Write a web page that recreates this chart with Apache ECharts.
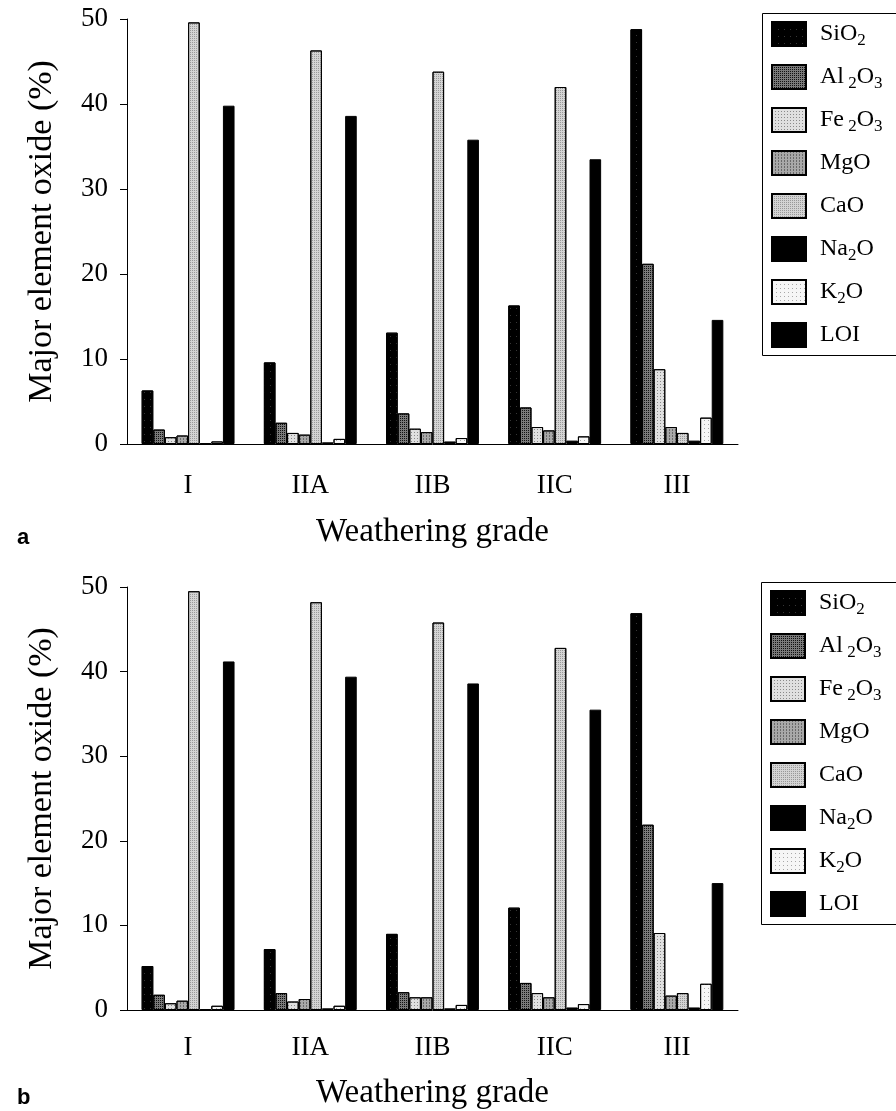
<!DOCTYPE html>
<html>
<head>
<meta charset="utf-8">
<title>Major element oxide vs weathering grade</title>
<script src="https://cdn.jsdelivr.net/npm/echarts@6.0.0/dist/echarts.min.js"></script>
<style>
    html, body { margin: 0; padding: 0; background: #fff; }
    #chart { width: 896px; height: 1111px; }
</style>
</head>
<body>
<div id="chart"></div>
<script>
// 风化等级
const grades = ['I', 'IIA', 'IIB', 'IIC', 'III'];
const oxides = ['SiO2', 'Al2O3', 'Fe2O3', 'MgO', 'CaO', 'Na2O', 'K2O', 'LOI'];
const yTicks = [0, 10, 20, 30, 40, 50];

// 图 a 数据 (每个氧化物一组, 按风化等级)
const sio2A  = [6.3, 9.6, 13.1, 16.3, 48.8];
const al2o3A = [1.7, 2.5, 3.6, 4.3, 21.2];
const fe2o3A = [0.8, 1.3, 1.8, 2.0, 8.8];
const mgoA   = [1.0, 1.1, 1.4, 1.6, 2.0];
const caoA   = [49.6, 46.3, 43.8, 42.0, 1.3];
const na2oA  = [0.1, 0.2, 0.3, 0.4, 0.4];
const k2oA   = [0.3, 0.6, 0.7, 0.9, 3.1];
const loiA   = [39.8, 38.6, 35.8, 33.5, 14.6];

// 图 b 数据
const sio2B  = [5.2, 7.2, 9.0, 12.1, 46.9];
const al2o3B = [1.8, 2.0, 2.1, 3.2, 21.9];
const fe2o3B = [0.8, 1.0, 1.5, 2.0, 9.1];
const mgoB   = [1.1, 1.3, 1.5, 1.5, 1.7];
const caoB   = [49.5, 48.2, 45.8, 42.8, 2.0];
const na2oB  = [0.1, 0.2, 0.2, 0.3, 0.3];
const k2oB   = [0.5, 0.5, 0.6, 0.7, 3.1];
const loiB   = [41.2, 39.4, 38.6, 35.5, 15.0];

const dataA = [sio2A, al2o3A, fe2o3A, mgoA, caoA, na2oA, k2oA, loiA];
const dataB = [sio2B, al2o3B, fe2o3B, mgoB, caoB, na2oB, k2oB, loiB];

// 图例文字 (下标)
const legendLabels = {
    'SiO2': 'SiO{s|2}',
    'Al2O3': 'Al{s| 2}O{s|3}',
    'Fe2O3': 'Fe{s| 2}O{s|3}',
    'MgO': 'MgO',
    'CaO': 'CaO',
    'Na2O': 'Na{s|2}O',
    'K2O': 'K{s|2}O',
    'LOI': 'LOI'
};

// 柱子填充 (灰度 + 网点纹理)
function dots(color, dx, dy) {
    return { symbol: 'rect', symbolSize: 1, color: color, dashArrayX: dx, dashArrayY: dy, rotation: 0 };
}
const fills = [
    { color: '#000', decal: dots('rgba(90,90,90,0.6)', [1, 5], [1, 6]) },
    { color: '#7a7a7a', decal: dots('#111', [1, 1], [1, 1]) },
    { color: '#e0e0e0', decal: dots('#8a8a8a', [1, 2], [1, 2]) },
    { color: '#a8a8a8', decal: dots('#6a6a6a', [1, 2], [2, 1]) },
    { color: '#d4d4d4', decal: dots('#999', [1, 1], [1, 1]) },
    { color: '#000', decal: null },
    { color: '#f6f6f6', decal: dots('#a8a8a8', [1, 3], [1, 3]) },
    { color: '#000', decal: null }
];

const serif = 'Liberation Serif';

function makeGrid(top) {
    return { left: 127, top: top, width: 611, height: 425 };
}

function makeXAxis(idx, labelMargin, nameGap) {
    return {
        type: 'category',
        gridIndex: idx,
        data: grades,
        axisLine: { lineStyle: { color: '#000', width: 1 } },
        axisTick: { alignWithLabel: true, length: 7, lineStyle: { color: '#000' } },
        axisLabel: { color: '#000', fontFamily: serif, fontSize: 27, margin: labelMargin },
        name: 'Weathering grade',
        nameLocation: 'middle',
        nameGap: nameGap,
        nameTextStyle: { color: '#000', fontFamily: serif, fontSize: 33 }
    };
}

function makeYAxis(idx) {
    return {
        type: 'value',
        gridIndex: idx,
        min: yTicks[0],
        max: yTicks[yTicks.length - 1],
        interval: yTicks[1] - yTicks[0],
        axisLine: { show: true, lineStyle: { color: '#000', width: 1 } },
        axisTick: { show: true, length: 7, lineStyle: { color: '#000' } },
        splitLine: { show: false },
        axisLabel: { color: '#000', fontFamily: serif, fontSize: 27, margin: 19 },
        name: 'Major element oxide (%)',
        nameLocation: 'middle',
        nameGap: 68,
        nameTextStyle: { color: '#000', fontFamily: serif, fontSize: 34 }
    };
}

// 图例 (边框单独画, 右侧超出画布)
function makeLegend(left, top) {
    return {
        orient: 'vertical',
        left: left,
        top: top,
        data: oxides,
        icon: 'rect',
        itemWidth: 34,
        itemHeight: 24,
        itemGap: 13,
        padding: [6, 0, 6, 9],
        borderWidth: 0,
        selectedMode: false,
        formatter: function (name) { return legendLabels[name]; },
        textStyle: {
            color: '#000',
            fontFamily: serif,
            fontSize: 24,
            lineHeight: 30,
            padding: [0, 0, 0, 9],
            rich: {
                s: { fontFamily: serif, fontSize: 17, lineHeight: 16, verticalAlign: 'bottom', color: '#000' }
            }
        }
    };
}

function legendFrame(x, y, h) {
    return {
        type: 'rect',
        silent: true,
        shape: { x: x + 0.5, y: y + 0.5, width: 200, height: h },
        style: { fill: 'none', stroke: '#000', lineWidth: 1 }
    };
}

function makeSeries(data, idx) {
    return oxides.map(function (name, i) {
        return {
            name: name,
            type: 'bar',
            xAxisIndex: idx,
            yAxisIndex: idx,
            data: data[i],
            barGap: '0%',
            barCategoryGap: '24%',
            itemStyle: {
                color: fills[i].color,
                decal: fills[i].decal,
                borderColor: '#000',
                borderWidth: 1
            },
            emphasis: { disabled: true }
        };
    });
}

function initChart() {
    const chart = echarts.init(document.getElementById('chart'));
    const option = {
        animation: false,
        backgroundColor: '#fff',
        title: [
            { text: 'a', left: 12, top: 522, textStyle: { fontFamily: 'Liberation Sans', fontWeight: 'bold', fontSize: 22, color: '#000' } },
            { text: 'b', left: 12, top: 1082, textStyle: { fontFamily: 'Liberation Sans', fontWeight: 'bold', fontSize: 22, color: '#000' } }
        ],
        legend: [makeLegend(762, 13), makeLegend(761, 582)],
        graphic: [legendFrame(762, 13, 342), legendFrame(761, 582, 342)],
        grid: [makeGrid(19), makeGrid(587)],
        xAxis: [makeXAxis(0, 28, 72), makeXAxis(1, 24, 67)],
        yAxis: [makeYAxis(0), makeYAxis(1)],
        series: makeSeries(dataA, 0).concat(makeSeries(dataB, 1))
    };
    chart.setOption(option);
}

initChart();
</script>
</body>
</html>
